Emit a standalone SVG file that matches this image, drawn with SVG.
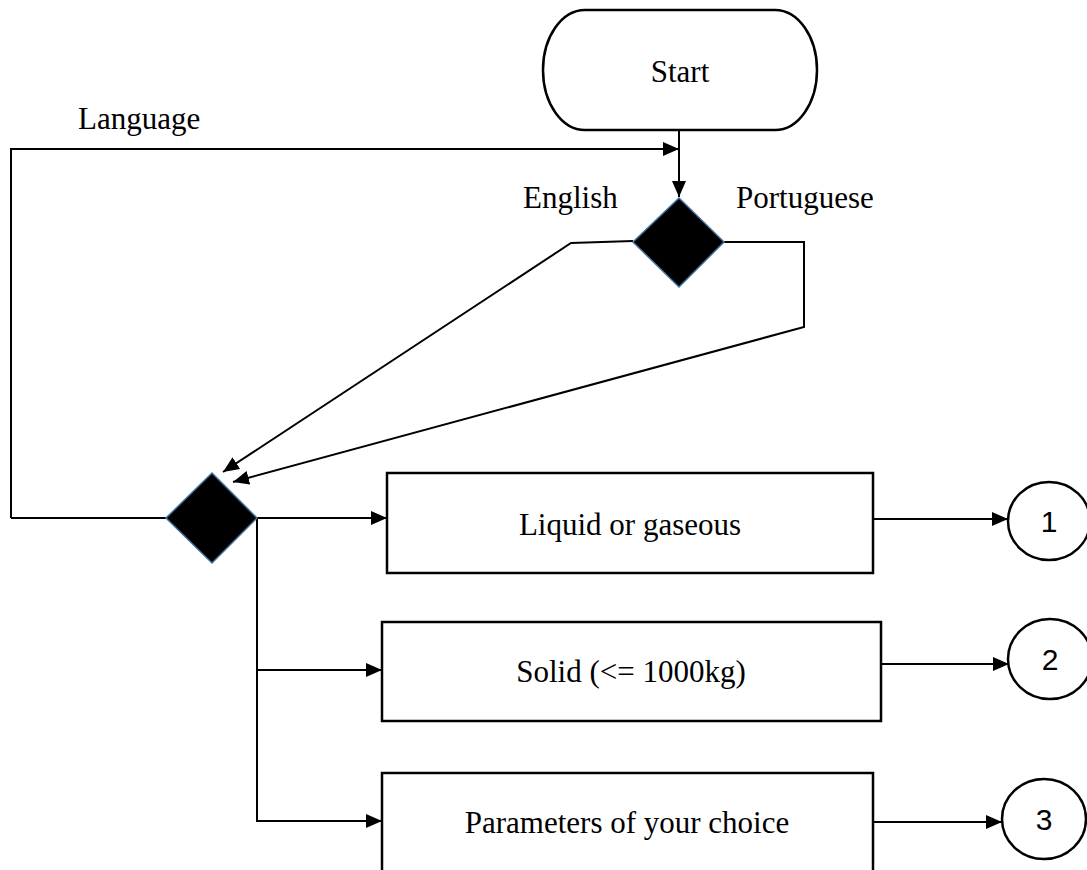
<svg xmlns="http://www.w3.org/2000/svg" width="1087" height="870" viewBox="0 0 1087 870">
<style>
.ln{fill:none;stroke:#000;stroke-width:2}
.box{fill:#fff;stroke:#000;stroke-width:2.5}
.dia{fill:#000;stroke:#41719C;stroke-width:1.5}
.t{font-family:"Liberation Serif","Times New Roman",serif;font-size:31px;fill:#000}
.n{font-family:"Liberation Sans",Arial,sans-serif;font-size:30px;fill:#000;text-anchor:middle}
.c{text-anchor:middle}
</style>
<defs>
<marker id="ah" viewBox="0 0 16 14" refX="16" refY="7" markerWidth="16" markerHeight="14" orient="auto" markerUnits="userSpaceOnUse">
<path d="M0,0 L16,7 L0,14 z" fill="#000"/>
</marker>
</defs>
<rect width="1087" height="870" fill="#fff"/>
<g id="connectors">
<line class="ln" x1="679" y1="131" x2="679" y2="197" marker-end="url(#ah)"/>
<polyline class="ln" points="11,518 11,149 679,149" marker-end="url(#ah)"/>
<line class="ln" x1="11" y1="518" x2="166" y2="518"/>
<polyline class="ln" points="633,241 571,243 223,472" marker-end="url(#ah)"/>
<polyline class="ln" points="724,242 804,242 804,327 233,482" marker-end="url(#ah)"/>
<line class="ln" x1="257" y1="518" x2="387" y2="518" marker-end="url(#ah)"/>
<polyline class="ln" points="257,518 257,821 382,821" marker-end="url(#ah)"/>
<line class="ln" x1="257" y1="670" x2="382" y2="670" marker-end="url(#ah)"/>
<line class="ln" x1="873" y1="519" x2="1008" y2="519" marker-end="url(#ah)"/>
<line class="ln" x1="881" y1="664" x2="1009" y2="664" marker-end="url(#ah)"/>
<line class="ln" x1="873" y1="822" x2="1002" y2="822" marker-end="url(#ah)"/>
</g>
<g id="labels">
<text class="t" x="78" y="129">Language</text>
<text class="t" x="523" y="208">English</text>
<text class="t" x="736" y="208">Portuguese</text>
</g>
<g id="start">
<rect class="box" x="543" y="10" width="274" height="120" rx="42" ry="60"/>
<text class="t c" x="680" y="82">Start</text>
</g>
<g id="lang-decision">
<polygon class="dia" points="679,198 724,242 679,287 633,242"/>
</g>
<g id="type-decision">
<polygon class="dia" points="212,473 257,518 212,563 166,518"/>
</g>
<g id="liquid">
<rect class="box" x="387" y="473" width="486" height="100"/>
<text class="t c" x="630" y="535">Liquid or gaseous</text>
</g>
<g id="solid">
<rect class="box" x="382" y="622" width="499" height="99"/>
<text class="t c" x="631" y="682">Solid (&lt;= 1000kg)</text>
</g>
<g id="params">
<rect class="box" x="382" y="773" width="491" height="110"/>
<text class="t c" x="627" y="833">Parameters of your choice</text>
</g>
<g id="c1">
<ellipse class="box" cx="1049" cy="521" rx="41" ry="39"/>
<text class="n" x="1049" y="532">1</text>
</g>
<g id="c2">
<ellipse class="box" cx="1050" cy="659" rx="42" ry="40"/>
<text class="n" x="1050" y="670">2</text>
</g>
<g id="c3">
<ellipse class="box" cx="1044" cy="819" rx="42" ry="40"/>
<text class="n" x="1044" y="830">3</text>
</g>
</svg>
